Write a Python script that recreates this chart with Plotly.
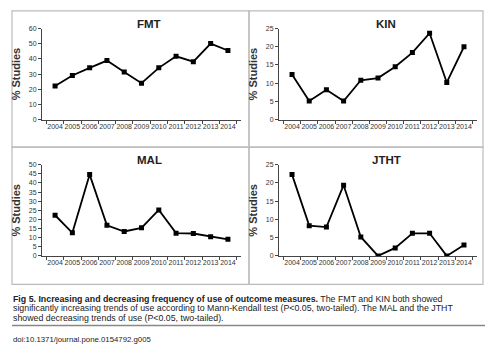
import plotly.graph_objects as go

years = [str(y) for y in range(2004, 2015)]
fmt = [22.2, 29.1, 34.1, 38.9, 31.3, 24.0, 34.1, 41.7, 38.2, 50.1, 45.5]
kin = [12.4, 5.1, 8.2, 5.1, 10.8, 11.4, 14.5, 18.4, 23.7, 10.2, 20.0]
mal = [22.3, 12.7, 44.6, 16.8, 13.4, 15.4, 25.2, 12.5, 12.3, 10.5, 9.1]
jtht = [22.3, 8.3, 7.9, 19.4, 5.2, 0.0, 2.2, 6.2, 6.2, 0.0, 3.0]
titles = ["FMT", "KIN", "MAL", "JTHT"]
series = [fmt, kin, mal, jtht]
yranges = [[0, 60], [0, 25], [0, 50], [0, 25]]
ydticks = [10, 5, 5, 5]
ylabel = "% Studies"
caption_bold = "Fig 5. Increasing and decreasing frequency of use of outcome measures."
caption_rest = [" The FMT and KIN both showed",
                "significantly increasing trends of use according to Mann-Kendall test (P<0.05, two-tailed). The MAL and the JTHT",
                "showed decreasing trends of use (P<0.05, two-tailed)."]
doi = "doi:10.1371/journal.pone.0154792.g005"

W, H = 498, 354
def px(x): return x / W
def py(y): return 1 - y / H

xdoms = [[px(42), px(241)], [px(279), px(477)], [px(42), px(241)], [px(279), px(477)]]
ydoms = [[py(118), py(25)], [py(118), py(25)], [py(257), py(164)], [py(257), py(164)]]

fig = go.Figure()
FONT = "Liberation Sans, Arial, sans-serif"
layout = dict(width=W, height=H, margin=dict(l=0, r=0, t=0, b=0),
              paper_bgcolor="white", plot_bgcolor="white", showlegend=False,
              font=dict(family=FONT, color="#333"))
annotations = []
shapes = []
for i in range(4):
    n = "" if i == 0 else str(i + 1)
    fig.add_trace(go.Scatter(x=years, y=series[i], mode="lines+markers",
                             line=dict(color="black", width=1.8),
                             marker=dict(symbol="square", size=5, color="black"),
                             xaxis="x" + n, yaxis="y" + n))
    layout["xaxis" + n] = dict(domain=xdoms[i], anchor="y" + n, type="category",
                               showline=True, linecolor="#444", linewidth=1,
                               ticks="outside", ticklen=3, tickcolor="#444",
                               tickson="boundaries", showgrid=False, zeroline=False,
                               tickfont=dict(size=7, color="#333"), tickangle=0)
    layout["yaxis" + n] = dict(domain=ydoms[i], anchor="x" + n, range=yranges[i],
                               dtick=ydticks[i], showline=True, linecolor="#444",
                               linewidth=1, ticks="outside", ticklen=3, tickcolor="#444",
                               showgrid=False, zeroline=False,
                               tickfont=dict(size=7, color="#333"),
                               title=dict(text="<b>" + ylabel + "</b>",
                                          font=dict(size=11, color="#333"), standoff=5))
    cx = (xdoms[i][0] + xdoms[i][1]) / 2 + px(8)
    ty = py(20) if i < 2 else py(159)
    annotations.append(dict(text="<b>" + titles[i] + "</b>", x=cx, y=ty, xref="paper",
                            yref="paper", showarrow=False, font=dict(size=11.5, color="#222"),
                            xanchor="center", yanchor="middle"))

# panel boxes
for (x0, x1) in [(12, 249), (249, 483)]:
    for (y0, y1) in [(7, 146), (146, 286)]:
        shapes.append(dict(type="rect", xref="paper", yref="paper",
                           x0=px(x0), x1=px(x1), y0=py(y1), y1=py(y0),
                           line=dict(color="#bbb", width=1.2)))
shapes.append(dict(type="line", xref="paper", yref="paper", x0=px(12), x1=px(485),
                   y0=py(328), y1=py(328), line=dict(color="#888", width=1.5)))

cap_lines = ["<b>" + caption_bold + "</b>" + caption_rest[0], caption_rest[1], caption_rest[2]]
for k, (t, yy) in enumerate(zip(cap_lines, [301, 310.5, 320])):
    annotations.append(dict(text=t, x=px(11), y=py(yy), xref="paper", yref="paper",
                            showarrow=False, xanchor="left", yanchor="middle",
                            font=dict(size=8.8, color="#222")))
annotations.append(dict(text=doi, x=px(11), y=py(342), xref="paper", yref="paper",
                        showarrow=False, xanchor="left", yanchor="middle",
                        font=dict(size=7.8, color="#222")))

layout["annotations"] = annotations
layout["shapes"] = shapes
fig.update_layout(**layout)
fig.write_html("out.html")
